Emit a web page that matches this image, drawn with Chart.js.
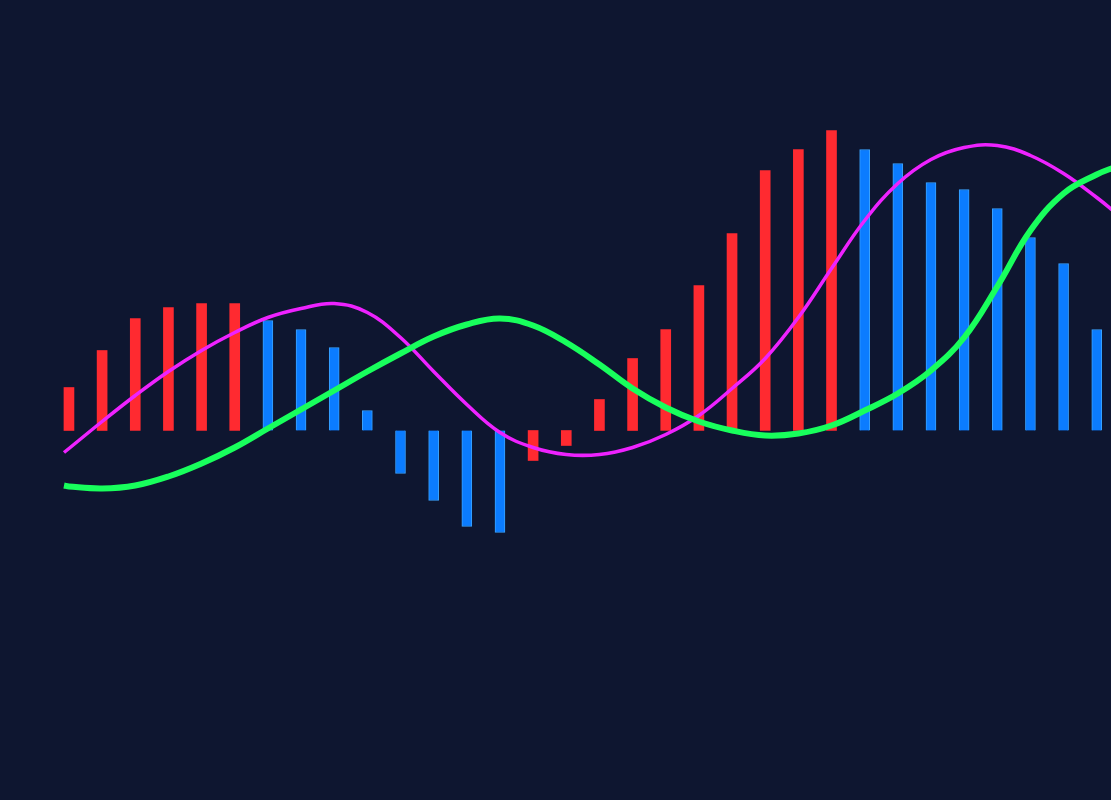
<!DOCTYPE html>
<html>
<head>
<meta charset="utf-8">
<script src="https://cdn.jsdelivr.net/npm/chart.js@4"></script>
<style>
  html, body { margin: 0; padding: 0; background: #0e1630; }
  #wrap { width: 1111px; height: 800px; }
</style>
</head>
<body>
<div id="wrap"><canvas id="myChart"></canvas></div>
<script>
// histogram bars, one per period
periods = [];
for (let i = 0; i < 32; i++) periods.push(i);

hist = [0.43, 0.80, 1.12, 1.23, 1.27, 1.27, 1.10, 1.01, 0.83, 0.20,
        -0.43, -0.70, -0.96, -1.02, -0.30, -0.15, 0.31, 0.72, 1.01, 1.45,
        1.97, 2.60, 2.81, 3.00, 2.81, 2.67, 2.48, 2.41, 2.22, 1.93,
        1.67, 1.01];

// line sample positions (period index)
lineX = [-0.15, 0, 1, 2, 3, 4, 5, 6, 7, 8, 9, 10, 11, 12, 13, 14, 15, 16,
         17, 18, 19, 20, 21, 22, 23, 24, 25, 26, 27, 28, 29, 30, 31, 31.6];

macd = [-0.22, -0.18, 0.09, 0.35, 0.59, 0.80, 0.98, 1.13, 1.22, 1.27, 1.18,
        0.93, 0.59, 0.26, -0.02, -0.17, -0.24, -0.24, -0.17, -0.04, 0.15,
        0.42, 0.72, 1.13, 1.62, 2.10, 2.47, 2.71, 2.83, 2.85, 2.75, 2.57,
        2.33, 2.17];

signal = [-0.55, -0.56, -0.58, -0.55, -0.46, -0.33, -0.17, 0.02, 0.21, 0.40,
          0.59, 0.77, 0.94, 1.06, 1.12, 1.05, 0.88, 0.66, 0.42, 0.23, 0.09,
          0.00, -0.05, -0.03, 0.05, 0.20, 0.37, 0.60, 0.93, 1.44, 2.00, 2.37,
          2.56, 2.64];

const RED = "#ff2a30";
const BLUE = "#0b7cff";
const BLUE_EDGE = "#3aa3ff";

// red while the histogram is rising, blue while it falls
rising = hist.map((v, i) => i == 0 || v >= hist[i - 1]);

const ctx = document.getElementById('myChart');

new Chart(ctx, {
  data: {
    datasets: [
      {
        type: 'line',
        label: "Signal",
        data: lineX.map((x, i) => ({ x: x, y: signal[i] })),
        borderColor: "#18ff5c",
        borderWidth: 6,
        tension: 0.4,
        pointRadius: 0,
        order: 0
      },
      {
        type: 'line',
        label: "MACD",
        data: lineX.map((x, i) => ({ x: x, y: macd[i] })),
        borderColor: "#ee22ff",
        borderWidth: 3.5,
        tension: 0.4,
        pointRadius: 0,
        order: 1
      },
      {
        type: 'bar',
        label: "Histogram",
        data: periods.map((x, i) => ({ x: x, y: hist[i] })),
        backgroundColor: rising.map(r => r ? RED : BLUE),
        borderColor: rising.map(r => r ? RED : BLUE_EDGE),
        borderWidth: rising.map(r => r ? 0 : 1),
        barThickness: 10,
        order: 2
      }
    ]
  },
  options: {
    responsive: true,
    maintainAspectRatio: false,
    animation: false,
    layout: { padding: 0 },
    plugins: { legend: { display: false }, tooltip: { enabled: false } },
    scales: {
      x: { type: 'linear', min: -2.08, max: 31.43, offset: false, display: false },
      y: { min: -3.695, max: 4.305, display: false }
    }
  }
});
</script>
</body>
</html>
